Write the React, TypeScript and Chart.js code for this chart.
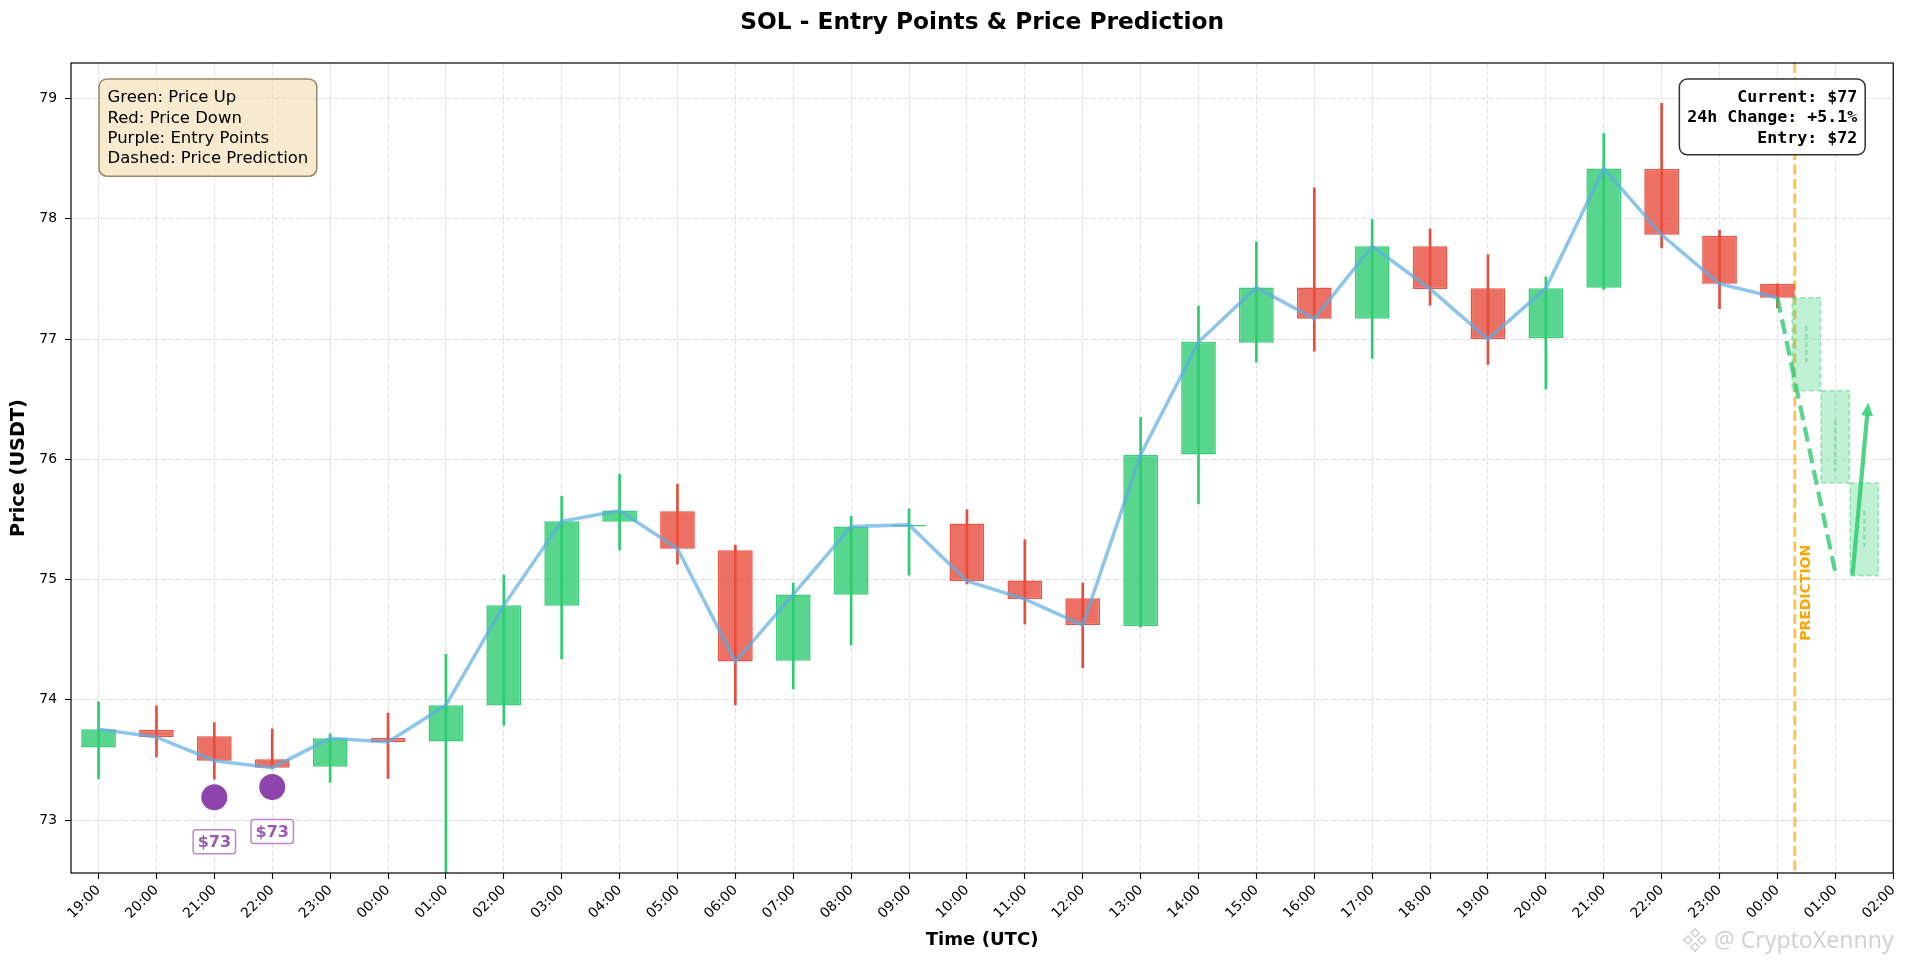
import { useEffect, useRef } from "react"
import { Chart, registerables } from "chart.js"

Chart.register(...registerables)

const SANS = "'DejaVu Sans', sans-serif"
const MONO = "'DejaVu Sans Mono', monospace"

// hourly tick labels (19:00 day 1 -> 02:00 day 3)
const timeLabels = [
  "19:00", "20:00", "21:00", "22:00", "23:00",
  "00:00", "01:00", "02:00", "03:00", "04:00", "05:00", "06:00", "07:00", "08:00", "09:00", "10:00", "11:00",
  "12:00", "13:00", "14:00", "15:00", "16:00", "17:00", "18:00", "19:00", "20:00", "21:00", "22:00", "23:00",
  "00:00", "01:00", "02:00",
]

// OHLC, one candle per hour (index 0 = 19:00, index 29 = 00:00)
const openPrices = [
  73.603, 73.75, 73.697, 73.506, 73.444, 73.683, 73.653, 73.953, 74.783, 75.48,
  75.568, 75.245, 74.326, 74.874, 75.442, 75.466, 74.993, 74.844, 74.611, 76.04,
  76.969, 77.43, 77.169, 77.772, 77.422, 77.008, 77.428, 78.414, 77.86, 77.46,
]
const closePrices = [
  73.756, 73.69, 73.494, 73.436, 73.68, 73.65, 73.956, 74.786, 75.485, 75.574,
  75.256, 74.318, 74.877, 75.441, 75.455, 74.988, 74.838, 74.622, 76.039, 76.975,
  77.43, 77.169, 77.772, 77.417, 77.0, 77.422, 78.419, 77.867, 77.46, 77.343,
]
const highPrices = [
  73.983, 73.95, 73.81, 73.758, 73.717, 73.89, 74.378, 75.037, 75.693, 75.878,
  75.795, 75.286, 74.971, 75.527, 75.588, 75.58, 75.33, 74.971, 76.35, 77.275,
  77.808, 78.258, 77.994, 77.917, 77.7, 77.517, 78.71, 78.96, 77.905, 77.46,
]
const lowPrices = [
  73.342, 73.525, 73.34, 73.43, 73.314, 73.347, 72.5, 73.787, 74.34, 75.245,
  75.129, 73.958, 74.091, 74.456, 75.037, 74.963, 74.63, 74.266, 74.606, 75.63,
  76.808, 76.9, 76.839, 77.283, 76.79, 76.583, 77.414, 77.758, 77.254, 77.26,
]

// entry points
const entryIndex = [2, 3]
const entryPrices = [73.19, 73.275]
const entryLabelPrices = [72.82, 72.905]
const entryLabels = ["$73", "$73"]

// prediction candles
const predX = [29.5, 30, 30.5]
const predOpen = [77.343, 76.571, 75.803]
const predClose = [76.571, 75.803, 75.032]
const predHigh = [77.11, 76.33, 75.575]
const predLow = [76.81, 75.9, 75.27]
const predWidth = 0.49

// prediction line, arrow and marker
const predLineX = [29, 30]
const predLineY = [77.343, 75.06]
const arrowX = [30.3, 30.57]
const arrowY = [75.05, 76.47]
const predictionStart = 29.3
const predictionTextX = 29.5
const predictionTextY = 74.89

const yTicks = [73, 74, 75, 76, 77, 78, 79]

const legendLines = ["Green: Price Up", "Red: Price Down", "Purple: Entry Points", "Dashed: Price Prediction"]
const infoLines = ["Current: $77", "24h Change: +5.1%", "Entry: $72"]

const GREEN = "#2ECC71"
const RED = "#E74C3C"
const gridColor = "rgba(176,176,176,0.4)"

const isUp = (i: number) => closePrices[i] >= openPrices[i]

const overlayPlugin = {
  id: "overlay",
  beforeDatasetsDraw(chart: any) {
    const { ctx, chartArea: a, scales } = chart
    const px = scales.x.getPixelForValue(predictionStart)
    ctx.save()
    ctx.strokeStyle = "rgba(255,165,0,0.7)"
    ctx.lineWidth = 2.8
    ctx.setLineDash([10, 4.5])
    ctx.beginPath()
    ctx.moveTo(px, a.top)
    ctx.lineTo(px, a.bottom)
    ctx.stroke()
    ctx.restore()
  },
  afterDatasetsDraw(chart: any) {
    const { ctx, chartArea: a, scales } = chart
    const x = scales.x
    const y = scales.y
    ctx.save()
    ctx.beginPath()
    ctx.rect(a.left, a.top, a.width, a.height)
    ctx.clip()

    // prediction candles
    predX.forEach((v, i) => {
      const x0 = x.getPixelForValue(v - predWidth / 2)
      const x1 = x.getPixelForValue(v + predWidth / 2)
      const y0 = y.getPixelForValue(predOpen[i])
      const y1 = y.getPixelForValue(predClose[i])
      ctx.fillStyle = "rgba(46,204,113,0.3)"
      ctx.fillRect(x0, y0, x1 - x0, y1 - y0)
      ctx.setLineDash([5, 3])
      ctx.strokeStyle = "rgba(46,204,113,0.45)"
      ctx.lineWidth = 1.5
      ctx.strokeRect(x0, y0, x1 - x0, y1 - y0)
      const xc = x.getPixelForValue(v)
      ctx.beginPath()
      ctx.moveTo(xc, y.getPixelForValue(predHigh[i]))
      ctx.lineTo(xc, y.getPixelForValue(predLow[i]))
      ctx.lineWidth = 2
      ctx.stroke()
    })

    // arrow
    const ax0 = x.getPixelForValue(arrowX[0])
    const ay0 = y.getPixelForValue(arrowY[0])
    const ax1 = x.getPixelForValue(arrowX[1])
    const ay1 = y.getPixelForValue(arrowY[1])
    const ang = Math.atan2(ay1 - ay0, ax1 - ax0)
    const head = 13
    const hw = 6
    const bx = ax1 - head * Math.cos(ang)
    const by = ay1 - head * Math.sin(ang)
    ctx.setLineDash([])
    ctx.strokeStyle = "rgba(46,204,113,0.85)"
    ctx.fillStyle = "rgba(46,204,113,0.85)"
    ctx.lineWidth = 4.2
    ctx.lineCap = "round"
    ctx.beginPath()
    ctx.moveTo(ax0, ay0)
    ctx.lineTo(bx, by)
    ctx.stroke()
    ctx.lineCap = "butt"
    ctx.beginPath()
    ctx.moveTo(ax1, ay1)
    ctx.lineTo(bx + hw * Math.sin(ang), by - hw * Math.cos(ang))
    ctx.lineTo(bx - hw * Math.sin(ang), by + hw * Math.cos(ang))
    ctx.closePath()
    ctx.fill()

    // entry labels
    ctx.font = `bold 16px ${SANS}`
    ctx.textAlign = "center"
    ctx.textBaseline = "middle"
    entryIndex.forEach((xi, i) => {
      const cx = x.getPixelForValue(xi)
      const cy = y.getPixelForValue(entryLabelPrices[i])
      const w = ctx.measureText(entryLabels[i]).width + 9
      const h = 24
      ctx.beginPath()
      ctx.roundRect(cx - w / 2, cy - h / 2, w, h, 3)
      ctx.fillStyle = "#ffffff"
      ctx.fill()
      ctx.strokeStyle = "rgba(155,89,182,0.7)"
      ctx.lineWidth = 1.5
      ctx.stroke()
      ctx.fillStyle = "#9B59B6"
      ctx.fillText(entryLabels[i], cx, cy + 1)
    })

    // PREDICTION label
    ctx.save()
    ctx.translate(x.getPixelForValue(predictionTextX), y.getPixelForValue(predictionTextY))
    ctx.rotate(-Math.PI / 2)
    ctx.font = `bold 14px ${SANS}`
    ctx.fillStyle = "#FFA500"
    ctx.fillText("PREDICTION", 0, 0)
    ctx.restore()
    ctx.restore()

    // legend box (top-left)
    ctx.save()
    ctx.font = `16.5px ${SANS}`
    const lw = Math.max(...legendLines.map((t) => ctx.measureText(t).width))
    const lx = a.left + 28
    const ly = a.top + 16
    const lh = 20.3
    ctx.beginPath()
    ctx.roundRect(lx, ly, lw + 17, legendLines.length * lh + 16, 8)
    ctx.fillStyle = "rgba(245,222,179,0.65)"
    ctx.fill()
    ctx.strokeStyle = "#9a8768"
    ctx.lineWidth = 1.5
    ctx.stroke()
    ctx.fillStyle = "#000"
    ctx.textAlign = "left"
    ctx.textBaseline = "middle"
    legendLines.forEach((t, i) => ctx.fillText(t, lx + 8.5, ly + 8 + lh * (i + 0.5) + 1))

    // info box (top-right)
    ctx.font = `bold 16.6px ${MONO}`
    const iw = Math.max(...infoLines.map((t) => ctx.measureText(t).width))
    const ih = 20.6
    const ir = a.right - 28
    const iy = a.top + 16
    ctx.beginPath()
    ctx.roundRect(ir - iw - 16, iy, iw + 16, infoLines.length * ih + 14, 8)
    ctx.fillStyle = "rgba(255,255,255,0.9)"
    ctx.fill()
    ctx.strokeStyle = "#333"
    ctx.lineWidth = 1.5
    ctx.stroke()
    ctx.fillStyle = "#000"
    ctx.textAlign = "right"
    infoLines.forEach((t, i) => ctx.fillText(t, ir - 8, iy + 7 + ih * (i + 0.5) + 1))

    // axes frame
    ctx.strokeStyle = "#000"
    ctx.lineWidth = 1.2
    ctx.strokeRect(a.left, a.top, a.width, a.height)
    ctx.restore()
  },
  afterDraw(chart: any) {
    const { ctx, chartArea: a } = chart
    const cx = (a.left + a.right) / 2
    ctx.save()
    ctx.fillStyle = "#000"
    ctx.textAlign = "center"
    ctx.textBaseline = "middle"
    ctx.font = `bold 23.3px ${SANS}`
    ctx.fillText("SOL - Entry Points & Price Prediction", cx, 23)
    ctx.font = `bold 18.1px ${SANS}`
    ctx.fillText("Time (UTC)", cx, 940)
    ctx.save()
    ctx.translate(18.5, (a.top + a.bottom) / 2)
    ctx.rotate(-Math.PI / 2)
    ctx.font = `bold 19.3px ${SANS}`
    ctx.fillText("Price (USDT)", 0, 0)
    ctx.restore()

    // watermark
    ctx.fillStyle = "rgba(205,205,205,0.9)"
    ctx.strokeStyle = "rgba(205,205,205,0.9)"
    ctx.lineWidth = 1.6
    const ix = 1695
    const iy = 940
    ;[[0, -7], [-7, 0], [7, 0], [0, 7]].forEach(([dx, dy]) => {
      ctx.beginPath()
      ctx.moveTo(ix + dx, iy + dy - 4)
      ctx.lineTo(ix + dx + 4, iy + dy)
      ctx.lineTo(ix + dx, iy + dy + 4)
      ctx.lineTo(ix + dx - 4, iy + dy)
      ctx.closePath()
      ctx.stroke()
    })
    ctx.font = `23px 'Noto Sans', sans-serif`
    ctx.textAlign = "left"
    ctx.fillText("@ CryptoXennny", 1714, 941)
    ctx.restore()
  },
}

export default function App() {
  const canvasRef = useRef<HTMLCanvasElement>(null)

  useEffect(() => {
    document.body.style.margin = "0"
    if (!canvasRef.current) return

    const idx = openPrices.map((_, i) => i)

    const chart = new Chart(canvasRef.current, {
      type: "bar",
      data: {
        datasets: [
          {
            type: "bar",
            label: "wicks",
            data: idx.map((i) => ({ x: i, y: [lowPrices[i], highPrices[i]] })) as any,
            backgroundColor: idx.map((i) => (isUp(i) ? GREEN : RED)),
            borderWidth: 0,
            barThickness: 2,
            grouped: false,
            order: 4,
          },
          {
            type: "bar",
            label: "bodies",
            data: idx.map((i) => ({ x: i, y: [openPrices[i], closePrices[i]] })) as any,
            backgroundColor: idx.map((i) => (isUp(i) ? "rgba(46,204,113,0.8)" : "rgba(231,76,60,0.8)")),
            borderColor: idx.map((i) => (isUp(i) ? "rgba(46,204,113,0.95)" : "rgba(231,76,60,0.95)")),
            borderWidth: 1.5,
            borderSkipped: false,
            barPercentage: 0.6,
            categoryPercentage: 1,
            grouped: false,
            order: 3,
          },
          {
            type: "line",
            label: "close",
            data: idx.map((i) => ({ x: i, y: closePrices[i] })),
            borderColor: "rgba(93,173,226,0.7)",
            borderWidth: 3.5,
            pointRadius: 0,
            tension: 0,
            order: 2,
          },
          {
            type: "line",
            label: "prediction",
            data: predLineX.map((v, i) => ({ x: v, y: predLineY[i] })),
            borderColor: "rgba(46,204,113,0.8)",
            borderWidth: 4.2,
            borderDash: [15, 7],
            pointRadius: 0,
            order: 1,
          },
          {
            type: "line",
            label: "entries",
            data: entryIndex.map((v, i) => ({ x: v, y: entryPrices[i] })),
            showLine: false,
            pointRadius: 13,
            pointBackgroundColor: "#8E44AD",
            pointBorderWidth: 0,
            order: 0,
          },
        ],
      },
      options: {
        animation: false,
        responsive: false,
        devicePixelRatio: 1,
        events: [],
        layout: { padding: { top: 63, right: 13, left: 0, bottom: 0 } },
        plugins: {
          legend: { display: false },
          tooltip: { enabled: false },
          title: { display: false },
        },
        scales: {
          x: {
            type: "linear",
            min: -0.476,
            max: 31,
            offset: false,
            afterBuildTicks: (s: any) => {
              s.ticks = timeLabels.map((_, i) => ({ value: i }))
            },
            afterFit: (s: any) => {
              s.height = 90
            },
            grid: {
              offset: false,
              color: gridColor,
              lineWidth: 1,
              drawTicks: true,
              tickLength: 6,
              tickColor: "#000",
              tickWidth: 1.1,
            },
            border: { display: false, dash: [5, 2.5] },
            ticks: {
              autoSkip: false,
              maxRotation: 45,
              minRotation: 45,
              color: "#000",
              padding: 3,
              font: { family: SANS, size: 13.9 },
              callback: (v: any) => timeLabels[Math.round(Number(v))] ?? "",
            },
          },
          y: {
            type: "linear",
            min: 72.56,
            max: 79.296,
            beginAtZero: false,
            afterBuildTicks: (s: any) => {
              s.ticks = yTicks.map((v) => ({ value: v }))
            },
            afterFit: (s: any) => {
              s.width = 71
            },
            grid: {
              color: gridColor,
              lineWidth: 1,
              drawTicks: true,
              tickLength: 6,
              tickColor: "#000",
              tickWidth: 1.1,
            },
            border: { display: false, dash: [5, 2.5] },
            ticks: {
              color: "#000",
              padding: 8,
              font: { family: SANS, size: 13.9 },
              callback: (v: any) => String(v),
            },
          },
        },
      } as any,
      plugins: [overlayPlugin],
    })

    return () => chart.destroy()
  }, [])

  return (
    <div style={{ width: 1908, height: 963, background: "#ffffff" }}>
      <canvas ref={canvasRef} width={1908} height={963} style={{ display: "block", width: 1908, height: 963 }} />
    </div>
  )
}
